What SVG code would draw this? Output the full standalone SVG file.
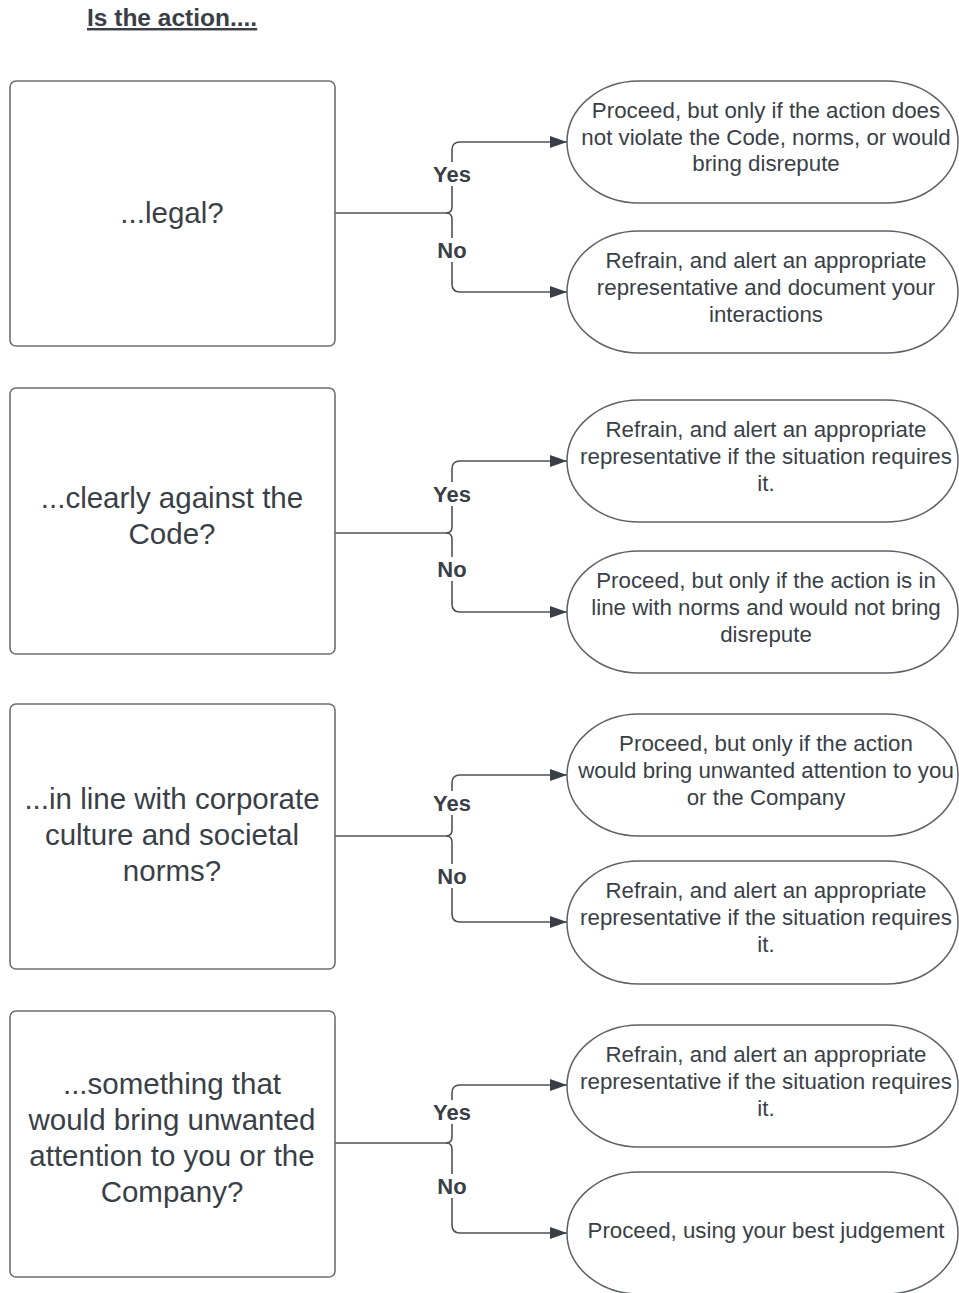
<svg xmlns="http://www.w3.org/2000/svg" width="959" height="1293" viewBox="0 0 959 1293">
<defs>
<style>
.box{fill:#fff;stroke:#6b6f75;stroke-width:1.6}
.term{fill:#fff;stroke:#5d6168;stroke-width:1.5}
.bt{font-family:"Liberation Sans",Arial,sans-serif;font-size:29.5px;fill:#3a3f47;text-anchor:middle}
.tt{font-family:"Liberation Sans",Arial,sans-serif;font-size:22.3px;fill:#3a3f47;text-anchor:middle}
.lbl{font-family:"Liberation Sans",Arial,sans-serif;font-size:22px;font-weight:bold;fill:#3a3f47;text-anchor:middle}
.lblbg{fill:#fff}
.con{fill:none;stroke:#4e535a;stroke-width:1.6}
.title{font-family:"Liberation Sans",Arial,sans-serif;font-size:24.5px;font-weight:bold;fill:#3a3f47;text-decoration:underline}
</style>
<marker id="arr" viewBox="0 0 17 12" refX="17" refY="6" markerWidth="17" markerHeight="12" markerUnits="userSpaceOnUse" orient="auto">
<path d="M0,0 L17,6 L0,12 Z" fill="#3a3f47"/>
</marker>
</defs>
<rect width="959" height="1293" fill="#fff"/>
<text class="title" x="87" y="26">Is the action....</text>

<g id="connectors">
<path class="con" marker-end="url(#arr)" d="M335,213 H446 Q452,213 452,207 V150 Q452,142 460,142 H567"/>
<path class="con" marker-end="url(#arr)" d="M446,213 Q452,213 452,219 V284 Q452,292 460,292 H567"/>
<path class="con" marker-end="url(#arr)" d="M335,533 H446 Q452,533 452,527 V469 Q452,461 460,461 H567"/>
<path class="con" marker-end="url(#arr)" d="M446,533 Q452,533 452,539 V604 Q452,612 460,612 H567"/>
<path class="con" marker-end="url(#arr)" d="M335,836 H446 Q452,836 452,830 V783 Q452,775 460,775 H567"/>
<path class="con" marker-end="url(#arr)" d="M446,836 Q452,836 452,842 V914 Q452,922 460,922 H567"/>
<path class="con" marker-end="url(#arr)" d="M335,1143 H446 Q452,1143 452,1137 V1093 Q452,1085 460,1085 H567"/>
<path class="con" marker-end="url(#arr)" d="M446,1143 Q452,1143 452,1149 V1225 Q452,1233 460,1233 H567"/>
<rect class="lblbg" x="430" y="162" width="44" height="24"/>
<text class="lbl" x="452" y="182">Yes</text>
<rect class="lblbg" x="434" y="238" width="36" height="24"/>
<text class="lbl" x="452" y="258">No</text>
<rect class="lblbg" x="430" y="482" width="44" height="24"/>
<text class="lbl" x="452" y="502">Yes</text>
<rect class="lblbg" x="434" y="557" width="36" height="24"/>
<text class="lbl" x="452" y="577">No</text>
<rect class="lblbg" x="430" y="791" width="44" height="24"/>
<text class="lbl" x="452" y="811">Yes</text>
<rect class="lblbg" x="434" y="864" width="36" height="24"/>
<text class="lbl" x="452" y="884">No</text>
<rect class="lblbg" x="430" y="1100" width="44" height="24"/>
<text class="lbl" x="452" y="1120">Yes</text>
<rect class="lblbg" x="434" y="1174" width="36" height="24"/>
<text class="lbl" x="452" y="1194">No</text>
</g>

<g id="q1"><rect class="box" x="10" y="81" width="325" height="265" rx="6"/>
<text class="bt" x="172" y="223">...legal?</text></g>
<g id="q2"><rect class="box" x="10" y="388" width="325" height="266" rx="6"/>
<text class="bt" x="172" y="508">...clearly against the</text>
<text class="bt" x="172" y="544">Code?</text></g>
<g id="q3"><rect class="box" x="10" y="704" width="325" height="265" rx="6"/>
<text class="bt" x="172" y="809">...in line with corporate</text>
<text class="bt" x="172" y="845">culture and societal</text>
<text class="bt" x="172" y="881">norms?</text></g>
<g id="q4"><rect class="box" x="10" y="1011" width="325" height="266" rx="6"/>
<text class="bt" x="172" y="1094">...something that</text>
<text class="bt" x="172" y="1130">would bring unwanted</text>
<text class="bt" x="172" y="1166">attention to you or the</text>
<text class="bt" x="172" y="1202">Company?</text></g>

<g id="r1"><rect class="term" x="567" y="81" width="391" height="122" rx="72" ry="61"/>
<text class="tt" x="766" y="118">Proceed, but only if the action does</text>
<text class="tt" x="766" y="145">not violate the Code, norms, or would</text>
<text class="tt" x="766" y="171">bring disrepute</text></g>
<g id="r2"><rect class="term" x="567" y="231" width="391" height="122" rx="72" ry="61"/>
<text class="tt" x="766" y="268">Refrain, and alert an appropriate</text>
<text class="tt" x="766" y="295">representative and document your</text>
<text class="tt" x="766" y="322">interactions</text></g>
<g id="r3"><rect class="term" x="567" y="400" width="391" height="122" rx="72" ry="61"/>
<text class="tt" x="766" y="437">Refrain, and alert an appropriate</text>
<text class="tt" x="766" y="464">representative if the situation requires</text>
<text class="tt" x="766" y="491">it.</text></g>
<g id="r4"><rect class="term" x="567" y="551" width="391" height="122" rx="72" ry="61"/>
<text class="tt" x="766" y="588">Proceed, but only if the action is in</text>
<text class="tt" x="766" y="615">line with norms and would not bring</text>
<text class="tt" x="766" y="642">disrepute</text></g>
<g id="r5"><rect class="term" x="567" y="714" width="391" height="122" rx="72" ry="61"/>
<text class="tt" x="766" y="751">Proceed, but only if the action</text>
<text class="tt" x="766" y="778">would bring unwanted attention to you</text>
<text class="tt" x="766" y="805">or the Company</text></g>
<g id="r6"><rect class="term" x="567" y="861" width="391" height="123" rx="72" ry="61"/>
<text class="tt" x="766" y="898">Refrain, and alert an appropriate</text>
<text class="tt" x="766" y="925">representative if the situation requires</text>
<text class="tt" x="766" y="952">it.</text></g>
<g id="r7"><rect class="term" x="567" y="1025" width="391" height="122" rx="72" ry="61"/>
<text class="tt" x="766" y="1062">Refrain, and alert an appropriate</text>
<text class="tt" x="766" y="1089">representative if the situation requires</text>
<text class="tt" x="766" y="1116">it.</text></g>
<g id="r8"><rect class="term" x="567" y="1172" width="391" height="122" rx="72" ry="61"/>
<text class="tt" x="766" y="1238">Proceed, using your best judgement</text></g>
</svg>
